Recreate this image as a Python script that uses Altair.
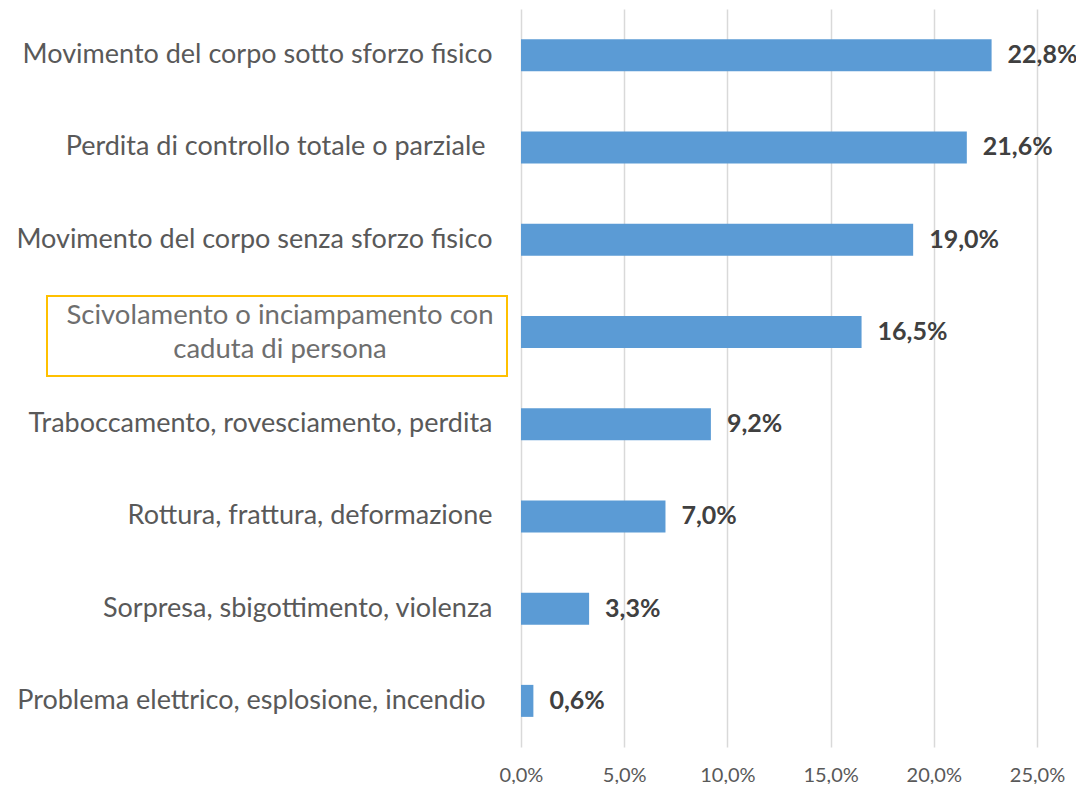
import altair as alt
import pandas as pd

categories = [
    "Movimento del corpo sotto sforzo fisico",
    "Perdita di controllo totale o parziale\u00a0\u200b",
    "Movimento del corpo senza sforzo fisico",
    "Scivolamento o inciampamento con caduta di persona",
    "Traboccamento, rovesciamento, perdita",
    "Rottura, frattura, deformazione",
    "Sorpresa, sbigottimento, violenza",
    "Problema elettrico, esplosione, incendio\u00a0\u200b",
]
values = [22.8, 21.6, 19.0, 16.5, 9.2, 7.0, 3.3, 0.6]
tick_values = [0, 5, 10, 15, 20, 25]
highlight = "Scivolamento o inciampamento con caduta di persona"
highlight_text = "Scivolamento o inciampamento con\ncaduta di persona"

df = pd.DataFrame({"cat": categories, "val": values})
hl = pd.DataFrame({"cat": [highlight], "txt": [highlight_text]})

FONT = "Lato"
fmt = "replace(format(datum.value, '.1f'), '.', ',') + '%'"

y_enc = alt.Y(
    "cat:N",
    sort=categories,
    title=None,
    axis=alt.Axis(
        ticks=False,
        domain=False,
        labelPadding=29,
        labelFontSize=27,
        labelColor="#595959",
        labelFont=FONT,
        labelLimit=600,
        labelExpr=f"datum.value == '{highlight}' ? '' : datum.value",
    ),
    scale=alt.Scale(paddingInner=0.65, paddingOuter=0.325),
)

bars = alt.Chart(df).mark_bar(color="#5B9BD5", size=32).encode(
    x=alt.X(
        "val:Q",
        title=None,
        scale=alt.Scale(domain=[0, 25], nice=False),
        axis=alt.Axis(
            values=tick_values,
            grid=True,
            gridColor="#d9d9d9",
            gridWidth=1.5,
            ticks=False,
            domain=False,
            labelFontSize=20,
            labelColor="#595959",
            labelFont=FONT,
            labelPadding=18,
            labelFlush=False,
            labelOverlap=False,
            labelExpr=fmt,
        ),
    ),
    y=y_enc,
)

labels = alt.Chart(df).mark_text(
    align="left", baseline="middle", dx=16, fontSize=25, fontWeight="bold",
    color="#404040", font=FONT,
).encode(
    x="val:Q",
    y=alt.Y("cat:N", sort=categories),
    text=alt.Text("lbl:N"),
).transform_calculate(lbl="replace(format(datum.val, '.1f'), '.', ',') + '%'")

box = alt.Chart(hl).mark_bar(
    size=80, fill="white", fillOpacity=0, stroke="#FFC000", strokeWidth=2, yOffset=4
).encode(
    x=alt.value(-474),
    x2=alt.value(-14),
    y=alt.Y("cat:N", sort=categories),
)

hl_text = alt.Chart(hl).mark_text(
    align="center", baseline="middle", fontSize=27.5, color="#6e6e6e", font=FONT,
    lineBreak="\n", lineHeight=34, yOffset=-16,
).encode(
    x=alt.value(-241),
    y=alt.Y("cat:N", sort=categories),
    text="txt:N",
)

chart = alt.layer(bars, labels, box, hl_text).properties(
    width=516,
    height=738,
    autosize=alt.AutoSizeParams(type="none"),
    padding={"left": 513, "top": 1, "right": 39, "bottom": 37},
).configure_view(stroke=None)

chart.save("out.html", embed_options={"renderer": "svg", "actions": False})
